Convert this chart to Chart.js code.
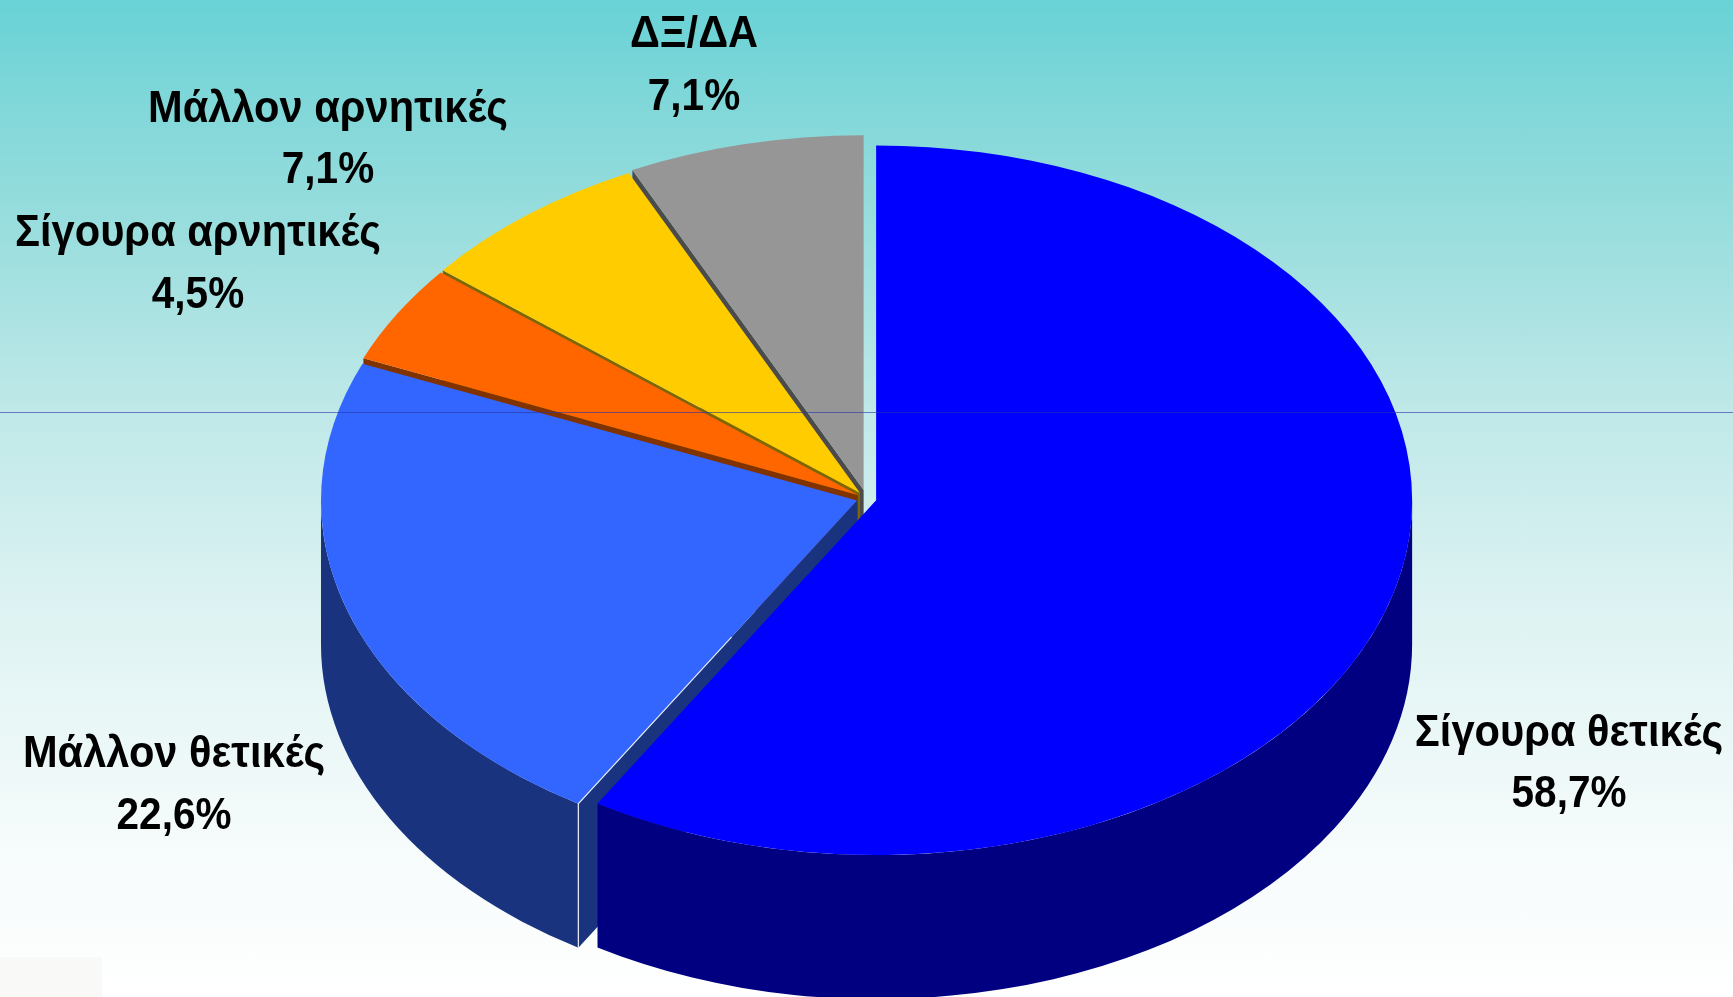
<!DOCTYPE html>
<html><head><meta charset="utf-8">
<script src="https://cdn.jsdelivr.net/npm/chart.js@4/dist/chart.umd.min.js"></script>
<style>
html,body{margin:0;padding:0;width:1733px;height:997px;overflow:hidden;background:#fff}
#wrap{position:absolute;left:0;top:0;width:1733px;height:997px;
background:linear-gradient(180deg,#68d2d6 0%,#84d8d9 12%,#98dddd 22%,#bfe8e8 41%,#dff3f3 62%,#f6fbfb 85%,#ffffff 100%)}
</style></head><body><div id="wrap"><canvas id="c" width="1733" height="997"></canvas></div>
<script>
const categories = ['Σίγουρα θετικές','Μάλλον θετικές','Σίγουρα αρνητικές','Μάλλον αρνητικές','ΔΞ/ΔΑ'];
const values = [58.7,22.6,4.5,7.1,7.1];
const valueLabels = ['58,7%','22,6%','4,5%','7,1%','7,1%'];
const topColors = ['#0000ff','#3366ff','#ff6600','#ffcc00','#969696'];
const sideColors = ['#000080','#19337f','#803300','#806600','#4b4b4b'];
const sliceOffsets = [10,10,10,10.5,13];
const labelCenterX = [1569,174,198,328,694];
const labelBaseY = [[746,807],[767,829],[246,308],[122,183],[47,110]];

const SQUASH = 0.662, DEPTH = 144;

function sliceShift(el,i){
  const mid=(el.startAngle+el.endAngle)/2;
  return [Math.cos(mid)*sliceOffsets[i], Math.sin(mid)*sliceOffsets[i]];
}
const pie3d = {
  id:'pie3d',
  beforeDraw(chart){
    const c=chart.ctx;
    c.save(); c.fillStyle='#f9f9f7'; c.fillRect(0,957,102,40); c.restore();
  },
  beforeDatasetDraw(chart,args){
    const c=chart.ctx, arcs=args.meta.data, D=DEPTH/SQUASH;
    const cy=arcs[0].y;
    c.save();
    c.translate(0,cy); c.scale(1,SQUASH); c.translate(0,-cy);
    for(let i=arcs.length-1;i>=0;i--){
      const el=arcs[i], [dx,dy]=sliceShift(el,i);
      const x=el.x, y=el.y, r=el.outerRadius, a0=el.startAngle, a1=el.endAngle;
      c.save(); c.translate(dx,dy);
      if(i>0){
        c.fillStyle=sideColors[i];
        const ex=x+Math.cos(a0)*r, ey=y+Math.sin(a0)*r;
        c.beginPath(); c.moveTo(x,y); c.lineTo(ex,ey); c.lineTo(ex,ey+D); c.lineTo(x,y+D); c.closePath(); c.fill();
      }
      const w0=Math.max(a0,0), w1=Math.min(a1,Math.PI);
      if(w1>w0){
        c.fillStyle=sideColors[i];
        c.beginPath(); c.arc(x,y,r,w0,w1); c.arc(x,y+D,r,w1,w0,true); c.closePath(); c.fill();
      }
      el.draw(c);
      if(i===1){
        const ex=x+Math.cos(a0)*r, ey=y+Math.sin(a0)*r;
        c.strokeStyle='rgba(255,255,255,0.85)'; c.lineWidth=1.3;
        c.beginPath(); c.moveTo(x+(ex-x)*0.45,y+(ey-y)*0.45); c.lineTo(ex,ey); c.lineTo(ex,ey+D); c.stroke();
      }
      c.restore();
    }
    c.restore();
    return false;
  },
  afterDraw(chart){
    const c=chart.ctx;
    c.save();
    c.fillStyle='#000';
    c.textAlign='center'; c.textBaseline='alphabetic';
    c.font='bold 45px "Liberation Sans"';
    categories.forEach((t,i)=>{
      [t,valueLabels[i]].forEach((s,j)=>{
        c.save(); c.translate(labelCenterX[i],labelBaseY[i][j]); c.scale(j===0?0.925:0.9,1);
        c.fillText(s,0,0); c.restore();
      });
    });
    c.restore();
    c.save(); c.fillStyle='rgba(40,50,170,0.6)'; c.fillRect(0,412,1733,1); c.restore();
  }
};
new Chart(document.getElementById('c'),{
  type:'pie',
  data:{labels:categories,datasets:[{data:values,backgroundColor:topColors,borderWidth:0}]},
  options:{responsive:false,animation:false,radius:536,layout:{padding:0},
    plugins:{legend:{display:false},tooltip:{enabled:false}},events:[]},
  plugins:[pie3d]
});
</script></body></html>
